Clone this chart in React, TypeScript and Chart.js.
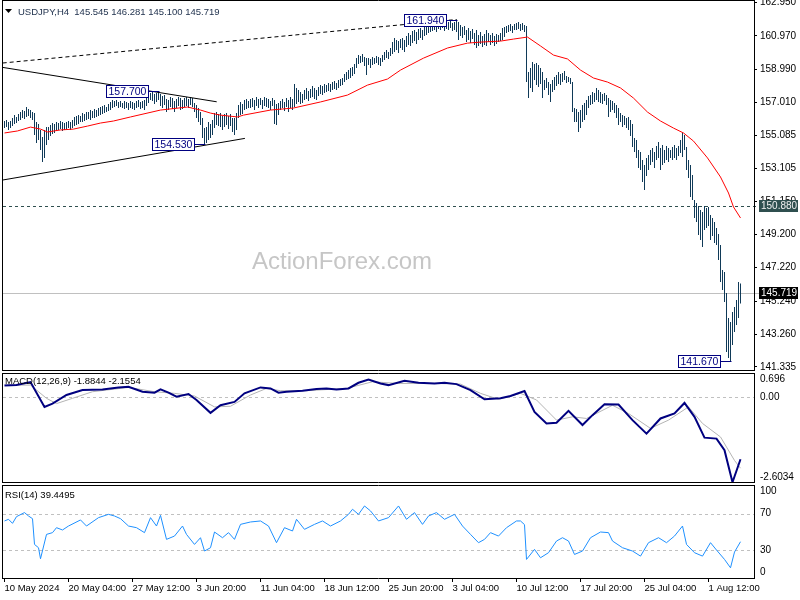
import React, { useEffect, useRef } from 'react';
import { Chart, registerables } from 'chart.js';

Chart.register(...registerables);

// ---------------- data ----------------
const symbolName = 'USDJPY,H4';
const lastBarOHLC = [145.545, 146.281, 145.1, 145.719];
const levelPrice = 150.88;
const currentPrice = 145.719;
const watermark = 'ActionForex.com';

const barHigh = [
  155.92, 155.98, 155.86, 155.92, 156.10, 156.27, 156.16, 156.33, 156.45, 156.57,
  156.51, 156.75, 156.63, 156.57, 156.45, 156.39, 155.86, 155.74, 155.39, 154.97,
  155.39, 155.56, 155.56, 155.68, 155.80, 155.74, 155.86, 155.80, 155.92, 155.86,
  155.80, 155.86, 155.92, 155.86, 155.98, 156.16, 156.22, 156.27, 156.22, 156.39,
  156.33, 156.45, 156.45, 156.57, 156.51, 156.63, 156.57, 156.69, 156.75, 156.81,
  156.87, 156.75, 156.93, 157.05, 157.16, 157.11, 157.16, 157.05, 157.11, 156.99,
  157.11, 157.05, 156.99, 157.11, 157.05, 156.99, 157.11, 157.16, 157.05, 157.11,
  157.16, 157.28, 157.46, 157.58, 157.64, 157.52, 157.58, 157.70, 157.52, 157.40,
  157.46, 157.22, 157.16, 157.34, 157.28, 157.11, 157.22, 157.34, 157.28, 157.16,
  157.28, 157.34, 157.22, 157.34, 157.28, 156.99, 156.87, 156.69, 156.45, 156.10,
  155.50, 155.56, 155.86, 155.74, 155.98, 156.39, 156.45, 156.33, 156.39, 156.22,
  156.33, 156.39, 156.22, 156.33, 156.10, 156.10, 156.39, 156.87, 157.05, 156.93,
  157.16, 157.22, 157.11, 157.22, 157.28, 157.16, 157.34, 157.22, 157.28, 157.16,
  157.34, 157.28, 157.22, 157.11, 157.28, 157.16, 156.93, 156.99, 157.11, 157.22,
  157.05, 157.28, 157.16, 157.34, 157.22, 158.11, 157.88, 157.76, 157.64, 157.52,
  157.76, 157.88, 157.70, 157.82, 157.99, 157.88, 157.76, 157.94, 158.05, 157.99,
  158.11, 158.05, 158.17, 158.11, 158.23, 158.29, 158.17, 158.35, 158.41, 158.47,
  158.71, 158.82, 158.94, 159.06, 159.12, 159.30, 159.65, 159.83, 159.77, 159.89,
  159.71, 159.65, 159.65, 159.60, 159.71, 159.65, 159.77, 159.71, 159.65, 159.83,
  160.01, 160.13, 160.01, 160.25, 160.60, 160.84, 160.72, 160.66, 160.78, 160.84,
  160.72, 160.96, 161.14, 161.02, 161.26, 161.32, 161.20, 161.37, 161.43, 161.32,
  161.49, 161.61, 161.73, 161.67, 161.79, 161.85, 161.73, 161.91, 161.79, 161.85,
  161.73, 161.91, 161.79, 161.85, 161.73, 161.79, 161.94, 161.79, 161.61, 161.49,
  161.55, 161.32, 161.43, 161.26, 161.37, 161.14, 161.32, 161.02, 161.20, 160.96,
  161.08, 161.32, 161.14, 161.02, 161.14, 160.96, 161.08, 161.02, 161.14, 161.43,
  161.49, 161.55, 161.61, 161.67, 161.55, 161.67, 161.73, 161.79, 161.67, 161.73,
  161.61, 161.55, 158.82, 159.06, 159.42, 159.30, 159.36, 159.24, 159.06, 158.82,
  158.35, 158.47, 158.23, 158.11, 158.35, 158.53, 158.65, 158.82, 158.71, 158.77,
  158.88, 158.59, 158.53, 158.47, 158.23, 156.69, 156.63, 156.45, 156.57, 156.87,
  156.99, 157.16, 157.40, 157.46, 157.64, 157.58, 157.88, 157.76, 157.64, 157.52,
  157.58, 157.46, 157.28, 157.16, 157.11, 156.99, 156.87, 156.69, 156.39, 156.27,
  156.22, 156.10, 156.16, 155.98, 155.74, 154.91, 154.79, 154.20, 154.08, 153.61,
  153.31, 153.73, 153.90, 154.20, 154.32, 154.08, 154.44, 154.67, 154.32, 154.50,
  154.20, 154.44, 154.32, 154.20, 154.38, 154.50, 154.32, 154.44, 154.79, 155.21,
  155.09, 154.38, 153.61, 153.31, 152.72, 151.23, 151.06, 150.88, 150.64, 150.52,
  150.88, 150.76, 150.82, 150.34, 150.17, 149.93, 149.57, 149.22, 148.57, 147.08,
  146.96, 145.72, 144.24, 144.00, 144.59, 144.89, 145.30, 146.37, 146.281,
];

const barLow = [
  155.50, 155.56, 155.39, 155.50, 155.62, 155.74, 155.80, 155.92, 155.98, 156.10,
  156.04, 156.16, 156.22, 156.10, 155.98, 155.09, 154.61, 154.79, 154.20, 153.49,
  153.73, 154.50, 154.79, 155.03, 155.15, 155.21, 155.33, 155.39, 155.44, 155.33,
  155.39, 155.44, 155.50, 155.39, 155.50, 155.62, 155.68, 155.74, 155.86, 155.86,
  155.92, 155.98, 156.04, 155.98, 156.10, 156.10, 156.16, 156.22, 156.27, 156.33,
  156.39, 156.45, 156.51, 156.57, 156.69, 156.75, 156.81, 156.69, 156.75, 156.69,
  156.63, 156.69, 156.57, 156.69, 156.63, 156.57, 156.69, 156.75, 156.63, 156.69,
  156.57, 156.81, 156.99, 157.16, 157.11, 156.93, 157.05, 157.16, 156.81, 156.69,
  156.87, 156.45, 156.57, 156.75, 156.63, 156.45, 156.69, 156.81, 156.57, 156.63,
  156.75, 156.81, 156.69, 156.87, 156.75, 156.45, 156.10, 155.86, 155.68, 154.91,
  154.53, 154.61, 154.79, 154.91, 155.09, 155.50, 155.68, 155.62, 155.56, 155.39,
  155.56, 155.68, 155.44, 155.62, 155.27, 155.09, 155.39, 156.10, 156.27, 156.33,
  156.57, 156.63, 156.69, 156.69, 156.75, 156.57, 156.81, 156.69, 156.87, 156.63,
  156.81, 156.75, 156.69, 156.57, 156.81, 155.74, 155.68, 156.27, 156.57, 156.69,
  156.51, 156.75, 156.45, 156.69, 156.57, 156.75, 156.93, 157.05, 156.93, 156.99,
  157.16, 157.22, 157.11, 157.28, 157.34, 157.22, 157.16, 157.40, 157.52, 157.46,
  157.58, 157.64, 157.70, 157.64, 157.76, 157.82, 157.76, 157.88, 157.99, 158.05,
  158.23, 158.35, 158.41, 158.47, 158.59, 158.71, 159.06, 159.30, 159.36, 159.42,
  159.18, 158.65, 159.24, 159.06, 159.24, 159.30, 159.36, 159.24, 159.18, 159.42,
  159.54, 159.65, 159.60, 159.77, 159.89, 160.01, 160.13, 159.95, 160.25, 160.13,
  160.01, 160.31, 160.43, 160.37, 160.54, 160.66, 160.49, 160.72, 160.84, 160.72,
  160.96, 161.02, 161.14, 161.20, 161.26, 161.32, 161.20, 161.37, 161.32, 161.43,
  161.26, 161.37, 161.32, 161.43, 161.26, 161.32, 161.20, 160.72, 160.96, 160.84,
  161.02, 160.60, 160.72, 160.54, 160.78, 160.43, 160.25, 160.37, 160.49, 160.31,
  160.43, 160.37, 160.60, 160.43, 160.54, 160.37, 160.49, 160.60, 160.66, 160.72,
  160.90, 161.14, 161.20, 161.26, 161.14, 161.32, 161.32, 161.37, 161.26, 161.32,
  161.20, 158.23, 157.28, 157.88, 157.64, 158.35, 158.05, 157.94, 158.11, 157.28,
  157.76, 157.88, 157.46, 157.05, 157.64, 157.76, 157.99, 158.11, 158.05, 158.23,
  158.35, 158.17, 158.23, 158.11, 156.45, 155.86, 155.86, 155.27, 155.50, 155.86,
  155.98, 156.27, 156.69, 156.87, 156.93, 157.05, 157.16, 157.05, 156.99, 156.93,
  157.11, 156.87, 156.16, 156.45, 156.57, 156.39, 156.10, 155.68, 155.86, 155.56,
  155.68, 155.50, 155.39, 155.03, 154.38, 154.08, 153.73, 153.13, 153.01, 152.30,
  151.83, 152.66, 153.01, 153.31, 153.49, 153.13, 153.61, 153.73, 153.01, 153.31,
  153.43, 153.61, 153.49, 153.73, 153.61, 153.73, 153.61, 153.84, 154.02, 153.78,
  154.20, 153.01, 152.54, 151.41, 151.23, 150.17, 149.93, 149.16, 148.86, 148.45,
  149.46, 149.57, 149.69, 148.86, 149.10, 148.68, 148.57, 147.68, 146.37, 145.90,
  145.19, 142.22, 141.87, 141.67, 142.64, 143.41, 143.82, 144.24, 145.10,
];

const maIndex = [0, 6.5, 13, 18, 21.5, 28, 34.5, 41.5, 48, 54.5, 63, 78, 91.5, 98, 103, 108, 116.5, 119.5, 133, 144.5, 158, 171.5, 181.5, 191.5, 198, 209.5, 221.5, 231.5, 238, 248, 254.5, 261.5, 268, 274.5, 281.5, 288, 294.5, 301.5, 308, 314.5, 321.5, 328, 334.5, 339.5, 344.5, 351.5, 358, 362, 364.5, 368];
const maValue = [155.21, 155.33, 155.56, 155.44, 155.27, 155.39, 155.44, 155.62, 155.80, 155.92, 156.16, 156.57, 156.75, 156.57, 156.39, 156.27, 156.16, 156.27, 156.57, 156.69, 157.05, 157.46, 158.05, 158.41, 158.94, 159.65, 160.25, 160.54, 160.60, 160.66, 160.78, 160.90, 160.37, 159.83, 159.60, 158.94, 158.47, 158.23, 157.88, 157.28, 156.45, 155.92, 155.50, 155.21, 154.73, 153.73, 152.60, 151.65, 150.82, 150.17];

const macdIndex = [0, 6, 13, 20, 24, 31, 39, 49, 57, 62, 69, 75, 78, 82, 86, 92, 96, 103, 108, 115, 120, 128, 133, 137, 141, 149, 156, 161, 166, 172, 177, 182, 188, 192, 200, 207, 215, 220, 226, 233, 240, 248, 253, 260, 265, 271, 276, 282, 289, 294, 300, 307, 314, 321, 328, 335, 340, 345, 350, 356, 360, 364, 368];
const macdValue = [0.35, 0.36, 0.45, -0.30, -0.20, 0.06, 0.21, 0.23, 0.29, 0.31, 0.16, 0.13, 0.23, 0.13, 0.01, 0.09, -0.09, -0.48, -0.25, -0.15, 0.11, 0.29, 0.26, 0.13, 0.16, 0.19, 0.24, 0.26, 0.23, 0.26, 0.43, 0.53, 0.41, 0.36, 0.49, 0.43, 0.41, 0.43, 0.39, 0.21, -0.07, -0.04, 0.03, 0.18, -0.45, -0.80, -0.78, -0.42, -0.85, -0.55, -0.22, -0.23, -0.70, -1.11, -0.65, -0.50, -0.18, -0.60, -1.23, -1.26, -1.61, -2.58, -1.8844];

const signalIndex = [0, 13, 21, 26, 34, 44, 62, 75, 85, 95, 105, 113, 123, 131, 138, 151, 171, 184, 197, 215, 228, 238, 247, 258, 266, 276, 284, 291, 304, 312, 323, 332, 342, 349, 358, 365, 368];
const signalValue = [0.36, 0.36, -0.04, -0.20, -0.04, 0.16, 0.29, 0.16, 0.11, 0.03, -0.30, -0.28, 0.06, 0.26, 0.19, 0.19, 0.26, 0.46, 0.41, 0.41, 0.39, 0.11, -0.07, 0.11, -0.09, -0.70, -0.60, -0.65, -0.25, -0.50, -0.95, -0.70, -0.30, -0.80, -1.21, -1.92, -2.1554];

const rsiIndex = [0, 2, 4, 6, 10, 12, 14, 15, 17, 18, 21, 24, 26, 29, 32, 38, 41, 47, 52, 55, 58, 62, 66, 70, 73, 76, 78, 81, 85, 89, 91, 95, 98, 100, 103, 105, 109, 112, 115, 118, 123, 128, 132, 136, 140, 144, 146, 150, 155, 159, 163, 168, 172, 174, 177, 180, 183, 187, 192, 197, 201, 205, 209, 212, 216, 220, 225, 229, 233, 237, 240, 243, 247, 251, 256, 258, 260, 261, 265, 268, 272, 276, 279, 282, 285, 289, 293, 298, 302, 304, 309, 314, 318, 322, 327, 331, 335, 339, 341, 345, 349, 353, 356, 360, 363, 365, 368];
const rsiValue = [62, 63.8, 59.4, 66.7, 71.1, 67.4, 64.5, 36.5, 32.9, 20.9, 47.4, 49.3, 54.7, 52.2, 56.5, 63.1, 56.5, 65.6, 69.2, 67.4, 64.5, 56.5, 54.7, 49.3, 65.6, 56.5, 68.1, 42, 45.6, 56.5, 47.4, 36.5, 43.8, 29.3, 32.9, 50, 43.8, 49.3, 42, 58.3, 60.9, 62, 56.5, 38.4, 54.7, 51.1, 63.8, 52.9, 58.3, 62, 56.5, 62, 69.2, 74.7, 69.2, 78.3, 72.9, 62, 65.6, 78.3, 63.8, 71.1, 58.3, 67.4, 71.1, 63.8, 69.2, 56.5, 47.4, 38.4, 42, 49.3, 45.6, 54.7, 62, 62, 58, 20.2, 31.1, 22, 27.5, 40.2, 43.8, 40.2, 25.6, 29.3, 43.8, 50, 49.3, 40.2, 32.9, 29.3, 23.8, 38.4, 43.8, 38.4, 45.6, 56.5, 36.5, 27.5, 23.8, 38.4, 30.4, 20.2, 11.1, 28.2, 39.4495];

const priceTicks = [162.95, 160.97, 158.99, 157.01, 155.085, 153.105, 151.15, 149.2, 147.22, 145.24, 143.26, 141.335];
const xTickIndex = [0, 32, 64, 96, 128, 160, 192, 224, 256, 288, 320, 352];
const xTickLabels = ['10 May 2024', '20 May 04:00', '27 May 12:00', '3 Jun 20:00', '11 Jun 04:00', '18 Jun 12:00', '25 Jun 20:00', '3 Jul 04:00', '10 Jul 12:00', '17 Jul 20:00', '25 Jul 04:00', '1 Aug 12:00'];
const macdTicks = [0.696, 0, -2.6034];
const macdTickLabels = ['0.696', '0.00', '-2.6034'];
const rsiTicks = [100, 70, 30, 0];
const rsiLevels = [70, 30];
const macdParams = [12, 26, 9];
const macdLast = [-1.8844, -2.1554];
const rsiPeriod = 14;
const rsiLast = 39.4495;

const markedIndex = [77, 100, 226, 363];
const markedPrice = [157.7, 154.53, 161.94, 141.67];
const upperTrend = [[-0.9, 159.1], [106.1, 157.06]];
const lowerTrend = [[-0.9, 152.42], [120.2, 154.89]];
const dashedTrend = [[-0.9, 159.36], [226, 161.94]];

const X_MIN = -0.75;
const X_MAX = 374.75;
const PRICE_MIN = 141.093;
const PRICE_MAX = 163.038;
const MACD_MIN = -2.6034;
const MACD_MAX = 0.696;

// ---------------- styles ----------------
const FAMILY = 'Liberation Sans';
const FONT = '"Liberation Sans", Arial, sans-serif';
const BAR_COLOR = '#103a58';

function drawFrame(ctx: any, a: any, top: number, bottom: number) {
  ctx.save();
  ctx.setLineDash([]);
  ctx.strokeStyle = '#000';
  ctx.lineWidth = 1;
  const l = a.left - 0.5;
  const r = a.right + 0.5;
  ctx.beginPath();
  ctx.moveTo(l, top); ctx.lineTo(r, top);
  ctx.moveTo(l, bottom); ctx.lineTo(r, bottom);
  ctx.moveTo(l, top - 0.5); ctx.lineTo(l, bottom + 0.5);
  ctx.moveTo(r, top - 0.5); ctx.lineTo(r, bottom + 0.5);
  ctx.stroke();
  ctx.restore();
}

function drawSideLabels(ctx: any, a: any, scale: any, values: number[], labels: string[]) {
  ctx.save();
  ctx.font = `10px ${FONT}`;
  ctx.fillStyle = '#000';
  ctx.textAlign = 'left';
  ctx.textBaseline = 'middle';
  values.forEach((v, k) => {
    let py = scale.getPixelForValue(v);
    py = Math.min(Math.max(py, a.top + 5.5), a.bottom - 6);
    ctx.fillText(labels[k], 760, py);
  });
  ctx.restore();
}

const mainDecor = {
  id: 'mainDecor',
  beforeDatasetsDraw(chart: any) {
    const { ctx, chartArea: a } = chart;
    const y = chart.scales.y;
    ctx.save();
    ctx.font = `24px ${FONT}`;
    ctx.fillStyle = '#c6c6c6';
    ctx.textAlign = 'center';
    ctx.textBaseline = 'middle';
    ctx.fillText(watermark, 342, 262);
    ctx.lineWidth = 1;
    const yl = Math.round(y.getPixelForValue(levelPrice)) + 0.5;
    ctx.strokeStyle = '#2f4f4f';
    ctx.setLineDash([3, 3]);
    ctx.beginPath(); ctx.moveTo(a.left, yl); ctx.lineTo(759, yl); ctx.stroke();
    ctx.setLineDash([]);
    const yc = Math.round(y.getPixelForValue(currentPrice)) + 0.5;
    ctx.strokeStyle = '#c0c0c0';
    ctx.beginPath(); ctx.moveTo(a.left, yc); ctx.lineTo(759, yc); ctx.stroke();
    ctx.restore();
  },
  afterDatasetsDraw(chart: any) {
    const { ctx, chartArea: a } = chart;
    const x = chart.scales.x;
    const y = chart.scales.y;
    ctx.save();
    ctx.beginPath(); ctx.rect(a.left, a.top, a.width, a.height); ctx.clip();
    ctx.strokeStyle = '#000';
    ctx.lineWidth = 1;
    const seg = (pts: number[][], dash: number[]) => {
      ctx.setLineDash(dash);
      ctx.beginPath();
      ctx.moveTo(x.getPixelForValue(pts[0][0]), y.getPixelForValue(pts[0][1]));
      ctx.lineTo(x.getPixelForValue(pts[1][0]), y.getPixelForValue(pts[1][1]));
      ctx.stroke();
    };
    seg(upperTrend, []);
    seg(lowerTrend, []);
    seg(dashedTrend, [4, 3]);
    ctx.setLineDash([]);
    ctx.font = `10.5px ${FONT}`;
    ctx.textBaseline = 'middle';
    ctx.textAlign = 'left';
    markedIndex.forEach((idx, k) => {
      const px = x.getPixelForValue(idx);
      const py = Math.round(y.getPixelForValue(markedPrice[k]));
      const txt = markedPrice[k].toFixed(3);
      const w = Math.ceil(ctx.measureText(txt).width) + 4;
      const right = Math.round(px) - 11;
      const left = right - w;
      ctx.strokeStyle = '#000080';
      ctx.beginPath(); ctx.moveTo(right, py + 0.5); ctx.lineTo(px + 1, py + 0.5); ctx.stroke();
      ctx.fillStyle = '#ffffff';
      ctx.fillRect(left, py - 5, w, 12);
      ctx.strokeRect(left + 0.5, py - 5.5, w, 12);
      ctx.fillStyle = '#000080';
      ctx.fillText(txt, left + 2.5, py + 1);
    });
    ctx.restore();
  },
  afterDraw(chart: any) {
    const { ctx, chartArea: a } = chart;
    const y = chart.scales.y;
    drawFrame(ctx, a, 0.5, 370.5);
    ctx.save();
    ctx.font = `10px ${FONT}`;
    ctx.textAlign = 'left';
    ctx.textBaseline = 'middle';
    const tag = (price: number, bg: string, fg: string) => {
      const py = Math.round(y.getPixelForValue(price));
      ctx.fillStyle = bg;
      ctx.fillRect(759, py - 6, 39, 12);
      ctx.fillStyle = fg;
      ctx.fillText(price.toFixed(3), 761, py + 0.5);
    };
    tag(levelPrice, '#2f4f4f', '#f0f0f0');
    tag(currentPrice, '#000000', '#ffffff');
    // title
    ctx.font = `9.5px ${FONT}`;
    ctx.fillStyle = '#000';
    ctx.beginPath();
    ctx.moveTo(5, 9); ctx.lineTo(12, 9); ctx.lineTo(8.5, 13); ctx.closePath();
    ctx.fill();
    ctx.fillStyle = '#1c2e4a';
    ctx.fillText(`${symbolName}  ${lastBarOHLC.map((v) => v.toFixed(3)).join(' ')}`, 18, 12);
    ctx.restore();
  },
};

const macdDecor = {
  id: 'macdDecor',
  beforeDatasetsDraw(chart: any) {
    const { ctx, chartArea: a } = chart;
    const y = chart.scales.y;
    ctx.save();
    ctx.strokeStyle = '#c0c0c0';
    ctx.lineWidth = 1;
    ctx.setLineDash([3, 3]);
    const py = Math.round(y.getPixelForValue(0)) + 0.5;
    ctx.beginPath(); ctx.moveTo(a.left, py); ctx.lineTo(a.right, py); ctx.stroke();
    ctx.restore();
  },
  afterDraw(chart: any) {
    const { ctx, chartArea: a } = chart;
    drawFrame(ctx, a, 1.5, 110.5);
    drawSideLabels(ctx, a, chart.scales.y, macdTicks, macdTickLabels);
    ctx.save();
    ctx.font = `9.5px ${FONT}`;
    ctx.fillStyle = '#000';
    ctx.textBaseline = 'middle';
    ctx.fillText(`MACD(${macdParams.join(',')}) ${macdLast[0].toFixed(4)} ${macdLast[1].toFixed(4)}`, 5, 9);
    ctx.restore();
  },
};

const rsiDecor = {
  id: 'rsiDecor',
  beforeDatasetsDraw(chart: any) {
    const { ctx, chartArea: a } = chart;
    const y = chart.scales.y;
    ctx.save();
    ctx.strokeStyle = '#c0c0c0';
    ctx.lineWidth = 1;
    ctx.setLineDash([3, 3]);
    rsiLevels.forEach((lv) => {
      const py = Math.round(y.getPixelForValue(lv)) + 0.5;
      ctx.beginPath(); ctx.moveTo(a.left, py); ctx.lineTo(a.right, py); ctx.stroke();
    });
    ctx.restore();
  },
  afterDraw(chart: any) {
    const { ctx, chartArea: a } = chart;
    drawFrame(ctx, a, 1.5, 94.5);
    drawSideLabels(ctx, a, chart.scales.y, rsiTicks, rsiTicks.map((v) => String(v)));
    ctx.save();
    ctx.font = `9.5px ${FONT}`;
    ctx.fillStyle = '#000';
    ctx.textBaseline = 'middle';
    ctx.fillText(`RSI(${rsiPeriod}) ${rsiLast.toFixed(4)}`, 5, 11);
    ctx.restore();
  },
};

const fitRight = (s: any) => {
  s.width = 46;
  s.paddingTop = 0;
  s.paddingBottom = 0;
};

const baseOptions = {
  animation: false,
  responsive: false,
  devicePixelRatio: 1,
  events: [],
  plugins: { legend: { display: false }, tooltip: { enabled: false } },
};

export default function App() {
  const refA = useRef<HTMLCanvasElement>(null);
  const refB = useRef<HTMLCanvasElement>(null);
  const refC = useRef<HTMLCanvasElement>(null);

  useEffect(() => {
    document.body.style.margin = '0';

    const bars = barHigh.map((h, i) => ({ x: i, y: [barLow[i], h] }));
    const ma = maIndex.map((v, k) => ({ x: v, y: maValue[k] }));
    const macd = macdIndex.map((v, k) => ({ x: v, y: macdValue[k] }));
    const signal = signalIndex.map((v, k) => ({ x: v, y: signalValue[k] }));
    const rsi = rsiIndex.map((v, k) => ({ x: v, y: rsiValue[k] }));

    const chartA = new Chart(refA.current as any, {
      type: 'bar',
      data: {
        datasets: [
          { type: 'line', data: ma, borderColor: '#ff0000', borderWidth: 1, pointRadius: 0, order: 0 } as any,
          { type: 'bar', data: bars as any, backgroundColor: BAR_COLOR, barThickness: 1, borderWidth: 0, inflateAmount: 0, order: 1 } as any,
        ],
      },
      options: {
        ...baseOptions,
        layout: { padding: { left: 3, right: 0, top: 1, bottom: 1 } },
        scales: {
          x: { type: 'linear', min: X_MIN, max: X_MAX, display: false, offset: false },
          y: {
            position: 'right',
            min: PRICE_MIN,
            max: PRICE_MAX,
            afterBuildTicks: (s: any) => { s.ticks = [...priceTicks].sort((p, q) => p - q).map((v) => ({ value: v })); },
            afterFit: fitRight,
            ticks: {
              autoSkip: false,
              padding: 3,
              color: '#000',
              font: { family: FAMILY, size: 10 },
              callback: (v: any) => Number(v).toFixed(3),
            },
            grid: { drawOnChartArea: false, drawTicks: true, tickLength: 3, color: '#000' },
            border: { display: false },
          },
        },
      } as any,
      plugins: [mainDecor],
    });

    const chartB = new Chart(refB.current as any, {
      type: 'line',
      data: {
        datasets: [
          { data: macd, borderColor: '#000080', borderWidth: 2, pointRadius: 0, order: 0 } as any,
          { data: signal, borderColor: '#b4b4b4', borderWidth: 1, pointRadius: 0, order: 1 } as any,
        ],
      },
      options: {
        ...baseOptions,
        layout: { padding: { left: 3, right: 0, top: 2, bottom: 1 } },
        scales: {
          x: { type: 'linear', min: X_MIN, max: X_MAX, display: false, offset: false },
          y: {
            position: 'right',
            min: MACD_MIN,
            max: MACD_MAX,
            afterFit: fitRight,
            ticks: { display: false },
            grid: { display: false },
            border: { display: false },
          },
        },
      } as any,
      plugins: [macdDecor],
    });

    const chartC = new Chart(refC.current as any, {
      type: 'line',
      data: {
        datasets: [
          { data: rsi, borderColor: '#1e90ff', borderWidth: 1, pointRadius: 0 } as any,
        ],
      },
      options: {
        ...baseOptions,
        layout: { padding: { left: 3, right: 0, top: 2, bottom: 0 } },
        scales: {
          x: {
            type: 'linear',
            min: X_MIN,
            max: X_MAX,
            offset: false,
            afterBuildTicks: (s: any) => { s.ticks = xTickIndex.map((v) => ({ value: v })); },
            afterFit: (s: any) => { s.height = 22; s.paddingLeft = 0; s.paddingRight = 0; },
            ticks: {
              autoSkip: false,
              maxRotation: 0,
              minRotation: 0,
              align: 'start',
              padding: 1,
              color: '#000',
              font: { family: FAMILY, size: 9.5 },
              callback: (_v: any, idx: number) => xTickLabels[idx],
            },
            grid: { drawOnChartArea: false, drawTicks: true, tickLength: 4, color: '#000', offset: false },
            border: { display: false },
          },
          y: {
            position: 'right',
            min: 0,
            max: 100,
            afterFit: fitRight,
            ticks: { display: false },
            grid: { display: false },
            border: { display: false },
          },
        },
      } as any,
      plugins: [rsiDecor],
    });

    return () => {
      chartA.destroy();
      chartB.destroy();
      chartC.destroy();
    };
  }, []);

  return (
    <div style={{ position: 'fixed', left: 0, top: 0, width: 800, height: 600, background: '#ffffff' }}>
      <canvas ref={refA} width={800} height={372} style={{ position: 'absolute', left: 0, top: 0, width: 800, height: 372 }} />
      <canvas ref={refB} width={800} height={112} style={{ position: 'absolute', left: 0, top: 372, width: 800, height: 112 }} />
      <canvas ref={refC} width={800} height={116} style={{ position: 'absolute', left: 0, top: 484, width: 800, height: 116 }} />
    </div>
  );
}
